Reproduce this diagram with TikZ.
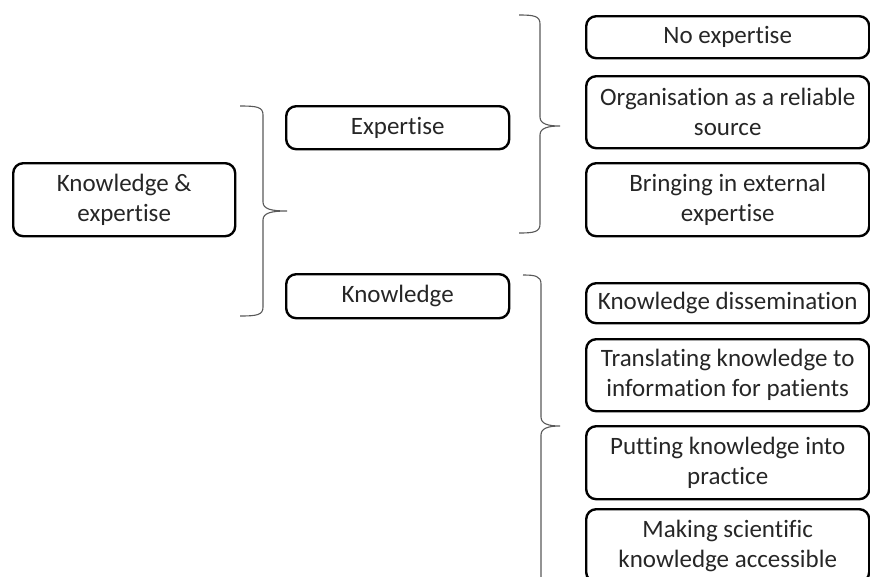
\documentclass[tikz,border=0pt]{standalone}
\usepackage{fontspec}
\setmainfont[Ligatures=NoCommon]{Carlito}
\begin{document}
\begin{tikzpicture}[x=1pt,y=-1pt,
  catbox/.style={draw=black, line width=2.4pt, rounded corners=10pt,
    anchor=north west, inner sep=0pt, align=center, text=black!85,
    font=\fontsize{25}{30}\selectfont},
  bracestroke/.style={draw=black!65, line width=1.1pt}]
\useasboundingbox (0,0) rectangle (870,576);
\clip (0,0) rectangle (870,576);

% curly brace: #1 end x, #2 spine x, #3 tip x, #4 top y, #5 tip y, #6 bottom y
\newcommand\wordbrace[6]{%
  \draw[bracestroke] (#1,#4) .. controls ({#2-6},#4) and (#2,{#4+1}) .. (#2,{#4+9})
    -- (#2,{#5-9}) .. controls (#2,{#5-2}) and ({#2+8},#5) .. (#3,#5)
    .. controls ({#2+8},#5) and (#2,{#5+2}) .. (#2,{#5+9})
    -- (#2,{#6-9}) .. controls (#2,{#6-1}) and ({#2-6},#6) .. (#1,#6);}

% root
\node[catbox, minimum width=222pt, minimum height=73pt] (root) at (12,162)
  {Knowledge \&\\expertise};

% second level
\node[catbox, minimum width=223pt, minimum height=43pt] (exp) at (285,105) {Expertise};
\node[catbox, minimum width=223pt, minimum height=44pt] (know) at (285,273) {Knowledge};

% expertise items
\node[catbox, minimum width=283pt, minimum height=42pt] (e1) at (585,15) {No expertise};
\node[catbox, minimum width=283pt, minimum height=72pt] (e2) at (585,75)
  {Organisation as a reliable\\source};
\node[catbox, minimum width=283pt, minimum height=73pt] (e3) at (585,162)
  {Bringing in external\\expertise};

% knowledge items
\node[catbox, minimum width=283pt, minimum height=40pt] (k1) at (585,282)
  {Knowledge dissemination};
\node[catbox, minimum width=283pt, minimum height=72pt] (k2) at (585,338)
  {Translating knowledge to\\information for patients};
\node[catbox, minimum width=283pt, minimum height=73pt] (k3) at (585,425)
  {Putting knowledge into\\practice};
\node[catbox, minimum width=283pt, minimum height=73pt] (k4) at (585,508)
  {Making scientific\\knowledge accessible};

% braces
\wordbrace{240}{263}{287}{106}{211}{316}
\wordbrace{519}{540}{560}{15}{126}{233}
\wordbrace{523}{541}{560}{275}{426}{640}
\end{tikzpicture}
\end{document}
